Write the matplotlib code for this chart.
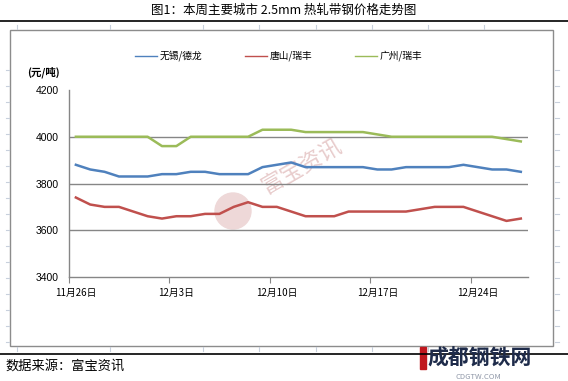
"""Weekly hot-rolled strip price trend chart (2.5mm), three cities."""
import matplotlib
matplotlib.use("Agg")
import matplotlib.pyplot as plt
from matplotlib.patches import Rectangle, Ellipse
from matplotlib.lines import Line2D

plt.rcParams["font.family"] = ["Noto Sans CJK SC", "DejaVu Sans"]

# data: daily prices 11/26 .. 12/27
dates = ["11月26日", "11月27日", "11月28日", "11月29日", "11月30日", "12月1日", "12月2日",
         "12月3日", "12月4日", "12月5日", "12月6日", "12月7日", "12月8日", "12月9日",
         "12月10日", "12月11日", "12月12日", "12月13日", "12月14日", "12月15日", "12月16日",
         "12月17日", "12月18日", "12月19日", "12月20日", "12月21日", "12月22日", "12月23日",
         "12月24日", "12月25日", "12月26日", "12月27日"]
wuxi = [3880, 3860, 3850, 3830, 3830, 3830, 3840, 3840, 3850, 3850, 3840, 3840, 3840, 3870,
        3880, 3890, 3870, 3870, 3870, 3870, 3870, 3860, 3860, 3870, 3870, 3870, 3870, 3880,
        3870, 3860, 3860, 3850]
tangshan = [3740, 3710, 3700, 3700, 3680, 3660, 3650, 3660, 3660, 3670, 3670, 3700, 3720, 3700,
            3700, 3680, 3660, 3660, 3660, 3680, 3680, 3680, 3680, 3680, 3690, 3700, 3700, 3700,
            3680, 3660, 3640, 3650]
guangzhou = [4000, 4000, 4000, 4000, 4000, 4000, 3960, 3960, 4000, 4000, 4000, 4000, 4000, 4030,
             4030, 4030, 4020, 4020, 4020, 4020, 4020, 4010, 4000, 4000, 4000, 4000, 4000, 4000,
             4000, 4000, 3990, 3980]
series_names = ["无锡/德龙", "唐山/瑞丰", "广州/瑞丰"]
colors = ["#4F81BD", "#C0504D", "#9BBB59"]
yticks = [3400, 3600, 3800, 4000, 4200]
label_every = 7

W, H = 568, 381
fig = plt.figure(figsize=(W / 100, H / 100), dpi=100)


def fx(x):
    return x / W


def fy(y):
    return 1 - y / H


# page decoration: title, rules, chart frame
fig.text(fx(284), fy(10), "图1：本周主要城市 2.5mm 热轧带钢价格走势图", ha="center", va="center",
         fontsize=9)
fig.add_artist(Line2D([0, 1], [fy(21), fy(21)], color="black", lw=1.2))
fig.add_artist(Line2D([0, 1], [fy(354), fy(354)], color="black", lw=1.2))
fig.add_artist(Rectangle((fx(10), fy(346)), fx(553) - fx(10), fy(30) - fy(346),
                         fill=False, edgecolor="#8c8c8c", lw=1))
tick_c = "#c8d0dc"
for yy in range(70, 345, 16):
    fig.add_artist(Line2D([fx(6), fx(9)], [fy(yy), fy(yy)], color=tick_c, lw=0.8))
    fig.add_artist(Line2D([fx(555), fx(559)], [fy(yy), fy(yy)], color=tick_c, lw=0.8))
for xx in [17, 110, 203, 259, 316, 372, 428, 484]:
    fig.add_artist(Line2D([fx(xx), fx(xx)], [fy(25), fy(29)], color=tick_c, lw=0.8))
    fig.add_artist(Line2D([fx(xx), fx(xx)], [fy(347), fy(351)], color=tick_c, lw=0.8))

# watermark (behind the plot)
wm = fig.text(fx(301), fy(166), "富宝资讯", ha="center", va="center", fontsize=16, rotation=30,
              color="#e8cccc")
wm.set_zorder(0)
logo = Ellipse((fx(233), fy(211)), fx(36), fx(36) * W / H, transform=fig.transFigure,
               color="#eed8d8")
logo.set_zorder(0)
fig.add_artist(logo)

# plot area
ax = fig.add_axes([fx(68.7), fy(277), fx(528) - fx(68.7), fy(90) - fy(277)])
ax.set_zorder(2)
x = list(range(len(dates)))
for vals, c in zip([wuxi, tangshan, guangzhou], colors):
    ax.plot(x, vals, color=c, lw=1.8, solid_joinstyle="round", zorder=3)
ax.set_xlim(-0.5, len(dates) - 0.5)
ax.set_ylim(yticks[0], yticks[-1])
ax.set_yticks(yticks)
ax.set_yticklabels([str(v) for v in yticks], fontsize=7.5, fontfamily="Liberation Sans")
for v in yticks[1:-1]:
    ax.axhline(v, color="#868686", lw=1, zorder=1)
ax.set_xticks([i - 0.5 for i in range(0, len(dates), label_every)])
ax.set_xticklabels([])
ax.set_xticks(list(range(0, len(dates), label_every)), minor=True)
ax.set_xticklabels(dates[::label_every], minor=True, fontsize=7)
ax.tick_params(axis="x", which="major", length=4, color="#868686", direction="out")
ax.tick_params(axis="x", which="minor", length=0, pad=8)
ax.tick_params(axis="y", length=0, pad=7)
for s in ["top", "right"]:
    ax.spines[s].set_visible(False)
for s in ["left", "bottom"]:
    ax.spines[s].set_color("#868686")
    ax.spines[s].set_linewidth(1)
ax.patch.set_alpha(0)

fig.text(fx(27), fy(72), "(元/吨)", ha="left", va="center", fontsize=7.5, fontweight="bold")

# legend
for i, (name, c) in enumerate(zip(series_names, colors)):
    x0 = 135 + i * 110
    fig.add_artist(Line2D([fx(x0), fx(x0 + 22)], [fy(56), fy(56)], color=c, lw=1))
    fig.text(fx(x0 + 25), fy(56), name, ha="left", va="center", fontsize=7)

# footer
fig.text(fx(5), fy(366), "数据来源：富宝资讯", ha="left", va="center", fontsize=9.5)
fig.add_artist(Rectangle((fx(420), fy(369)), fx(6), fy(347) - fy(369), color="#c0181e"))
fig.text(fx(427), fy(358), "成都钢铁网", ha="left", va="center", fontsize=15,
         fontweight="bold", color="#1e2b4a")
fig.text(fx(478), fy(377), "CDGTW.COM", ha="center", va="center", fontsize=5.5,
         color="#9098a8")

fig.savefig("out.png", dpi=100)
